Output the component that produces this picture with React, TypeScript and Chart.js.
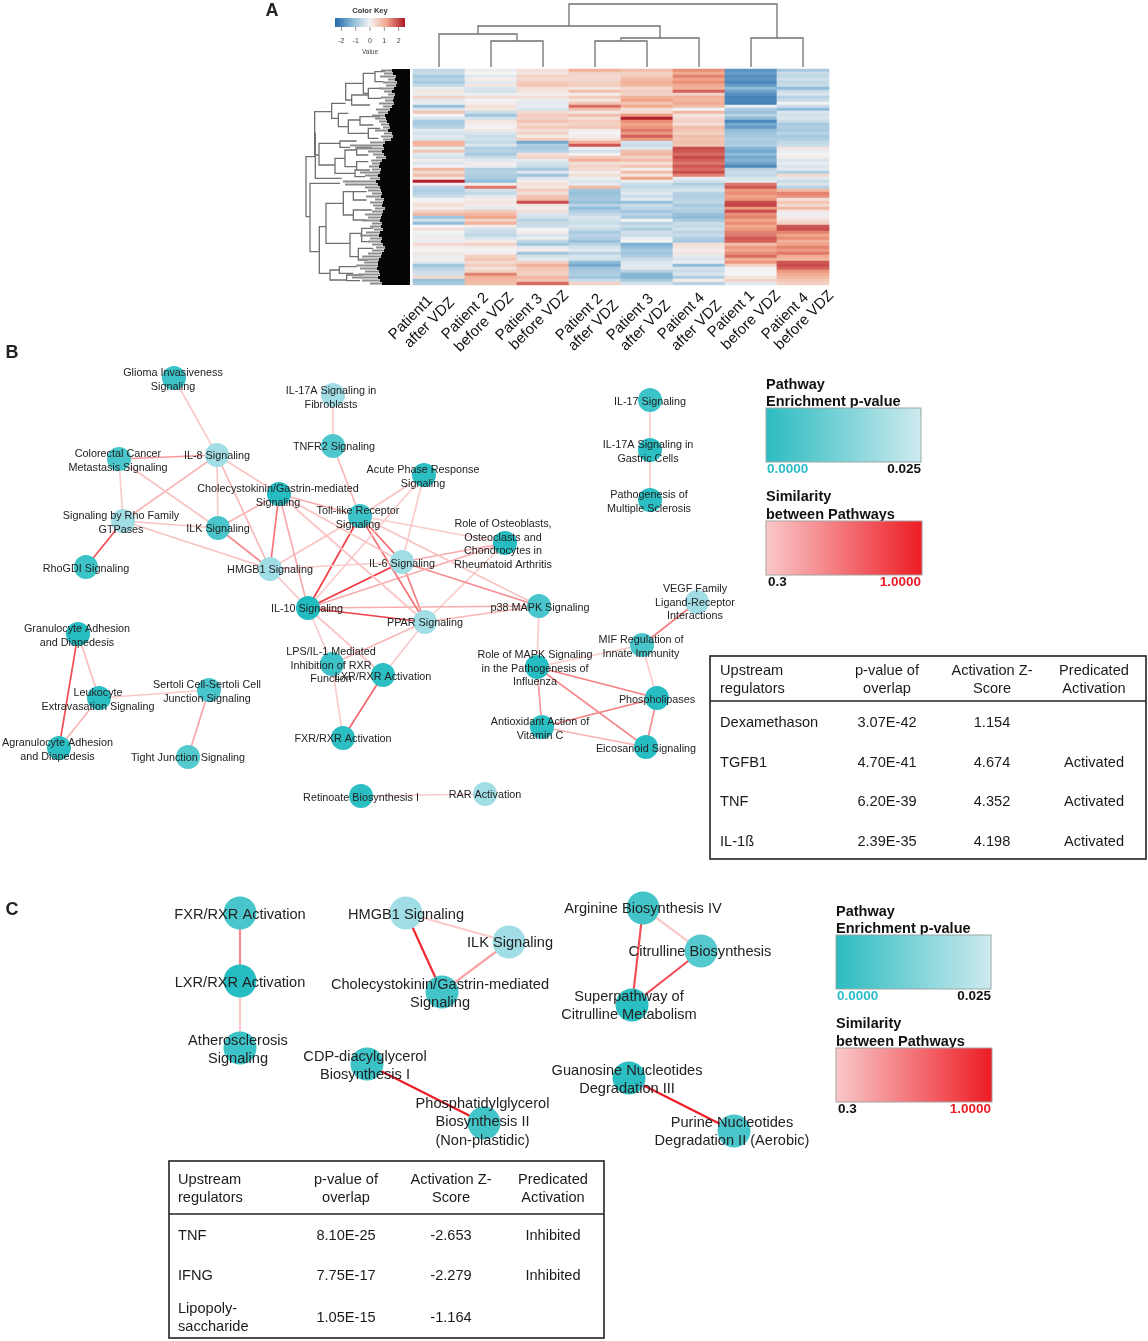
import React, { useEffect, useRef } from "react";
import { Chart, registerables } from "chart.js";
Chart.register(...registerables);

const W = 1148, H = 1341;
const FONT = '"Liberation Sans", Arial, sans-serif';

/* ---------- A: heat map ---------- */
const sampleNames = [["Patient1", "after VDZ"], ["Patient 2", "before VDZ"], ["Patient 3", "before VDZ"], ["Patient 2", "after VDZ"], ["Patient 3", "after VDZ"], ["Patient 4", "after VDZ"], ["Patient 1", "before VDZ"], ["Patient 4", "before VDZ"]];
const p1AfterVdz = [-.6,-.5,-.9,-.7,-.9,-.6,-.1,.2,-.1,.5,-.2,-.1,-1.1,-.3,.7,0,-.3,-.9,-.9,-.7,-.2,-.4,-.2,-.3,1,.9,-.1,.7,-.2,-.4,.1,-.3,0,.9,.4,.8,.2,2.4,.1,-.7,-.8,-.7,-.5,0,.1,.3,.1,.5,.9,-1,-.4,-1.2,0,.3,0,-.1,.1,-.1,.4,.1,0,.2,-.1,.1,-.2,-1,-.7,-.5,-.4,.4,-1.1,-.9];
const p2BeforeVdz = [-.1,0,-.2,.1,-.2,.2,-.3,-.4,-.1,.3,0,.1,.3,.2,-.5,-1,-.4,.2,.1,0,.2,-.3,-.5,-.4,-.6,-.3,-.8,-.7,-.9,-.5,-.2,.1,-.1,-.8,-.7,-.8,-.9,-1.2,.1,1.6,-.4,-.6,-.2,.1,.2,.1,-.2,.6,.9,1.2,.5,1,.1,-.4,-.5,-.6,-.3,.1,.5,.1,0,.1,.5,.7,.4,.6,.3,.5,1.5,1,.9,.8];
const p3BeforeVdz = [.3,.2,.5,.4,.6,.7,.3,.2,.1,.3,-.1,-.2,-.1,-.3,.4,.6,.5,.7,.4,.6,.3,.5,.1,.6,-1.5,-.8,-.9,-.7,.3,.5,-.2,-.4,-.5,-.9,-.3,-1,-.3,.1,.3,.2,.6,.3,.7,.8,2,.2,.1,.3,-.3,-.4,-.7,-.5,-.5,0,.1,-.3,-.1,-.6,-1,-.2,.1,-1,-.4,-.2,.5,1,.7,.6,.5,.9,.7,1.7];
const p2AfterVdz = [1,.5,.4,.4,.5,.6,.2,.8,.1,.6,.2,.7,1.7,.8,.2,.8,.3,.6,.5,.7,.1,0,.1,.3,1,1.9,-.1,-.4,0,.6,1,.3,.5,.4,.1,.3,-.1,-.3,-.2,.9,-1,-1.1,-1,-.9,-1.1,-.7,-1.2,-.8,-.6,-.3,-.4,-.5,-.3,-.5,-.9,-.7,-.8,-1.1,-.7,-.4,-.2,-.7,-.3,-.4,-1.2,-1.5,-1,-.9,-.8,-1,-.5,.5];
const p3AfterVdz = [.8,.5,.6,.9,1,.9,.4,.6,.5,1,1.2,.7,1.1,.3,.4,1.3,2.4,1.4,1.2,1.3,1.6,1.3,1.8,1.3,-.4,-.5,-.3,.8,.9,.5,.8,.3,.7,.1,.8,.2,1.2,-.1,-.5,-.6,-.4,-.2,-.5,-.2,-1.1,-.5,-.6,-1,-.7,-.9,0,-.7,-.5,-.8,-.4,-.5,-.1,0,-1.4,-1.2,-.9,-1,-.8,-.5,-.3,-.2,-.2,-.7,-1.3,-1.3,-.9,-.4];
const p4AfterVdz = [1.4,1.1,1.5,1.2,1.4,1.1,1,1.8,.5,1,.9,1.1,.8,0,.9,.2,.4,.5,.3,.8,.7,.5,.8,.7,.8,.7,2,1.9,1.7,2,1.8,1.6,1.9,1.7,2,1.5,-.1,-.4,-.8,-.5,-.3,-.7,-.8,-.7,-.6,-.9,-.7,-.8,-1.1,-1.2,-.9,-.5,-.6,-.4,-.7,-.5,-.8,-.9,.3,.2,.1,.2,-.2,-.3,-.1,-1.2,-.4,-.5,-.3,-.8,.1,-.7];
const p1BeforeVdz = [-1.8,-1.7,-1.9,-1.8,-2,-1.7,-1.2,-1.6,-1.9,-2.1,-2,-2.1,-.1,-.8,-1.1,-.7,-1.2,-2,-1.5,-1.7,-1.2,-1,-.9,-.8,-.9,-.8,-1.3,-1.5,-1.2,-1.5,-1.3,-1.6,-2,-.7,-.5,-.6,-.3,-.2,1.6,1.9,1.3,1.4,1.2,1.3,2,2.1,1.3,2,1.4,1.5,1.2,1.4,1.1,1.3,1.5,1.6,1.9,1.8,.8,1.3,1.1,1.4,1.7,1,1.3,.5,0,0,0,.2,.5,-.2];
const p4BeforeVdz = [-.9,-.5,-.6,-.4,-.6,-.5,-1.2,-.5,-.3,-.7,-.5,0,-.5,-1.2,-.3,-.4,-.3,-.5,-.9,-.8,-.9,-.7,-.9,-.8,-.6,-.5,.2,-.1,0,.1,-.3,-.1,-.3,-.2,-.8,.4,-.2,-.5,-.3,-.7,.9,1.5,1.4,.3,.7,.4,.9,.2,-.1,.1,.3,.5,1.9,2,1.5,1.2,1.4,1,1.2,1.5,1.3,1.6,1.1,.9,1.9,2,1.8,1.3,1.1,.9,.7,.5];
const heatColumns = [p1AfterVdz, p2BeforeVdz, p3BeforeVdz, p2AfterVdz, p3AfterVdz, p4AfterVdz, p1BeforeVdz, p4BeforeVdz];
const colCenters = [439, 491, 543, 595, 647, 699, 751, 803];
const keyTicks = [-2, -1, 0, 1, 2];

/* dendrograms */
const colBrackets = [[569,777,4,26,38],[478,660,26,34,38],[439,517,34,67,41],[491,543,41,67,67],[621,699,38,41,67],[595,647,41,67,67],[751,803,38,67,67]];
const rowBrackets = [[18,290,470,46,30],[46,220,355,44,125],[44,155,285,95,57],[95,130,175,137,115],[137,70,120,190,155],[190,40,100,225,205],[225,35,65,255,250],[205,85,115,250,245],[155,105,135,205,210],[115,160,200,145,145],[145,180,220,180,205],[180,170,195,240,220],[205,205,235,240,235],[57,250,315,120,105],[120,243,262,170,150],[105,295,340,135,165],[135,270,320,170,170],[170,262,285,215,205],[170,305,330,205,210],[165,330,350,210,195],[30,370,575,120,58],[58,500,640,78,90],[78,430,550,130,150],[130,395,465,160,160],[160,395,420,200,200],[160,450,480,215,200],[150,520,590,185,175],[185,505,545,220,210],[175,565,600,220,205],[90,630,660,118,140],[118,620,640,170,160],[140,645,662,190,180]];
const blackEdge = [392,393,396,395,397,396,394,392,395,394,393,394,392,390,388,385,386,387,389,390,388,392,393,391,385,383,384,382,384,386,382,380,379,381,380,378,380,376,378,380,381,382,381,384,383,382,385,383,382,381,380,382,381,383,380,379,382,381,383,385,384,382,381,379,378,378,377,379,380,378,380,382];
const fringeEdge = [381,384,380,388,383,386,379,384,388,381,385,379,383,376,378,372,375,379,381,383,375,384,381,383,370,350,355,368,373,376,371,372,369,372,360,365,370,343,345,365,368,372,366,375,370,373,375,372,365,368,362,372,370,374,366,360,370,368,372,376,372,368,362,358,364,356,360,365,358,352,362,370];

/* ---------- B / C: pathway networks ---------- */
// id: [label, x, y, p-value, labelX, labelY]
type N = [string, number, number, number, number, number];
const nodesB: Record<string, N> = {
  glioma: ["Glioma Invasiveness\nSignaling", 174, 378, .005, 173, 372],
  il17af: ["IL-17A Signaling in\nFibroblasts", 333, 395, .022, 331, 390],
  il8: ["IL-8 Signaling", 217, 455, .022, 217, 455],
  tnfr2: ["TNFR2 Signaling", 333, 446, .008, 334, 446],
  colo: ["Colorectal Cancer\nMetastasis Signaling", 119, 459, .007, 118, 453],
  chole: ["Cholecystokinin/Gastrin-mediated\nSignaling", 279, 494, .001, 278, 488],
  rho: ["Signaling by Rho Family\nGTPases", 123, 521, .022, 121, 515],
  ilk: ["ILK Signaling", 218, 528, .007, 218, 528],
  rhogdi: ["RhoGDI Signaling", 86, 567, .005, 86, 568],
  hmgb1: ["HMGB1 Signaling", 270, 569, .022, 270, 569],
  il10: ["IL-10 Signaling", 308, 608, 0, 307, 608],
  toll: ["Toll-like Receptor\nSignaling", 360, 516, .005, 358, 510],
  acute: ["Acute Phase Response\nSignaling", 424, 475, .002, 423, 469],
  osteo: ["Role of Osteoblasts,\nOsteoclasts and\nChondrocytes in\nRheumatoid Arthritis", 505, 543, .001, 503, 523],
  il6: ["IL-6 Signaling", 402, 562, .022, 402, 563],
  ppar: ["PPAR Signaling", 425, 622, .022, 425, 622],
  p38: ["p38 MAPK Signaling", 539, 606, .007, 540, 607],
  gran: ["Granulocyte Adhesion\nand Diapedesis", 78, 634, .001, 77, 628],
  leuko: ["Leukocyte\nExtravasation Signaling", 99, 698, .002, 98, 692],
  agran: ["Agranulocyte Adhesion\nand Diapedesis", 59, 748, .002, 57.5, 742],
  sertoli: ["Sertoli Cell-Sertoli Cell\nJunction Signaling", 209, 690, .007, 207, 684],
  tight: ["Tight Junction Signaling", 188, 757, .009, 188, 757],
  lps: ["LPS/IL-1 Mediated\nInhibition of RXR\nFunction", 332, 664, .005, 331, 651],
  lxr: ["LXR/RXR Activation", 383, 675, .002, 383, 676],
  fxr: ["FXR/RXR Activation", 343, 738, .002, 343, 738],
  retin: ["Retinoate Biosynthesis I", 361, 796, .002, 361, 797],
  rar: ["RAR Activation", 485, 794, .022, 485, 794],
  il17: ["IL-17 Signaling", 650, 400, .005, 650, 401],
  il17ag: ["IL-17A Signaling in\nGastric Cells", 650, 450, .002, 648, 444],
  ms: ["Pathogenesis of\nMultiple Sclerosis", 650, 500, .002, 649, 494],
  vegf: ["VEGF Family\nLigand-Receptor\nInteractions", 697, 602, .022, 695, 588],
  mif: ["MIF Regulation of\nInnate Immunity", 642, 645, .007, 641, 639],
  mapkflu: ["Role of MAPK Signaling\nin the Pathogenesis of\nInfluenza", 537, 667, .001, 535, 654],
  phospho: ["Phospholipases", 657, 698, .001, 657, 699],
  antiox: ["Antioxidant Action of\nVitamin C", 542, 727, .002, 540, 721],
  eico: ["Eicosanoid Signaling", 646, 747, .001, 646, 748],
};
const edgesB: [string, string, number][] = [
  ["glioma","il8",.3],["il17af","tnfr2",.3],["colo","il8",.5],["colo","rho",.3],["colo","ilk",.33],["il8","rho",.38],["il8","ilk",.3],["il8","hmgb1",.38],["il8","chole",.33],["rho","ilk",.33],["rho","hmgb1",.33],["rho","rhogdi",.8],["ilk","chole",.38],["ilk","hmgb1",.55],["chole","hmgb1",.65],["chole","il10",.42],["chole","toll",.42],["chole","il6",.33],["chole","ppar",.33],["hmgb1","toll",.33],["hmgb1","il6",.3],["hmgb1","il10",.33],["tnfr2","toll",.38],["acute","toll",.33],["acute","il6",.3],["acute","il10",.3],["toll","il10",.85],["toll","il6",.7],["toll","ppar",.65],["toll","osteo",.3],["toll","p38",.33],["il10","il6",.9],["il10","osteo",.42],["il10","ppar",.85],["il10","p38",.42],["il10","lps",.3],["il10","lxr",.33],["il6","osteo",.42],["il6","ppar",.6],["il6","p38",.55],["ppar","p38",.38],["ppar","osteo",.3],["ppar","lps",.38],["ppar","lxr",.3],["p38","mapkflu",.3],["lps","fxr",.3],["lxr","fxr",.7],["gran","agran",.8],["gran","leuko",.35],["leuko","agran",.38],["leuko","sertoli",.3],["sertoli","tight",.45],["retin","rar",.3],["il17","il17ag",.3],["il17ag","ms",.3],["vegf","mif",.6],["mif","mapkflu",.3],["mif","phospho",.3],["mapkflu","phospho",.6],["mapkflu","antiox",.5],["mapkflu","eico",.55],["antiox","phospho",.6],["antiox","eico",.4],["phospho","eico",.55],
];
const nodesC: Record<string, N> = {
  fxr: ["FXR/RXR Activation", 240, 913, .007, 240, 914],
  lxr: ["LXR/RXR Activation", 240, 981, .001, 240, 982],
  athero: ["Atherosclerosis\nSignaling", 240, 1048, .005, 238, 1040],
  hmgb1: ["HMGB1 Signaling", 406, 913, .022, 406, 914],
  ilk: ["ILK Signaling", 509, 942, .022, 510, 942],
  chole: ["Cholecystokinin/Gastrin-mediated\nSignaling", 442, 992, .006, 440, 984],
  cdp: ["CDP-diacylglycerol\nBiosynthesis I", 367, 1064, .005, 365, 1056],
  pgb: ["Phosphatidylglycerol\nBiosynthesis II\n(Non-plastidic)", 484, 1123, .006, 482.5, 1103],
  arg: ["Arginine Biosynthesis IV", 643, 908, .006, 643, 908],
  cit: ["Citrulline Biosynthesis", 701, 951, .009, 700, 951],
  sup: ["Superpathway of\nCitrulline Metabolism", 632, 1005, .002, 629, 996],
  guan: ["Guanosine Nucleotides\nDegradation III", 629, 1078, .002, 627, 1070],
  pur: ["Purine Nucleotides\nDegradation II (Aerobic)", 734, 1131, .007, 732, 1122],
};
const edgesC: [string, string, number][] = [["fxr","lxr",.55],["lxr","athero",.3],["hmgb1","ilk",.3],["hmgb1","chole",.95],["ilk","chole",.45],["cdp","pgb",1],["arg","cit",.3],["arg","sup",.8],["cit","sup",.8],["guan","pur",1]];

/* ---------- tables ---------- */
const tableHeaders = [["Upstream", "regulators"], ["p-value of", "overlap"], ["Activation Z-", "Score"], ["Predicated", "Activation"]];
const tableBRows = [["Dexamethason", "3.07E-42", "1.154", ""], ["TGFB1", "4.70E-41", "4.674", "Activated"], ["TNF", "6.20E-39", "4.352", "Activated"], ["IL-1ß", "2.39E-35", "4.198", "Activated"]];
const tableCRows = [["TNF", "8.10E-25", "-2.653", "Inhibited"], ["IFNG", "7.75E-17", "-2.279", "Inhibited"], ["Lipopoly-\nsaccharide", "1.05E-15", "-1.164", ""]];

/* ---------- helpers ---------- */
const hex = (h: string) => [1, 3, 5].map((i) => parseInt(h.slice(i, i + 2), 16));
const mix = (a: string, b: string, t: number) => {
  const A = hex(a), B = hex(b);
  return `rgb(${A.map((v, i) => Math.round(v + (B[i] - v) * t)).join(",")})`;
};
const heatStops: [number, string][] = [[-2.5, "#2468a8"], [-1.2, "#8fbcd9"], [0, "#f3f3f3"], [1.2, "#f2a488"], [2.5, "#ae1626"]];
const heatColor = (v: number) => {
  for (let i = 1; i < heatStops.length; i++) {
    if (v <= heatStops[i][0]) {
      const [a, ca] = heatStops[i - 1], [b, cb] = heatStops[i];
      return mix(ca, cb, Math.max(0, (v - a) / (b - a)));
    }
  }
  return heatStops[heatStops.length - 1][1];
};
const nodeColor = (p: number) => mix("#1fbbbf", "#b2e2ea", p / 0.025);
const edgeColor = (s: number) => mix("#fbcaca", "#ee1c25", (s - .3) / .7);
const gap = { x: NaN, y: NaN };

const line = (data: any[], color: string, width: number, order: number) => ({
  type: "line" as const, data, borderColor: color, borderWidth: width, pointRadius: 0, tension: 0, fill: false, order, spanGaps: false,
});

function buildDatasets() {
  const ds: any[] = [];
  // heat cells, as floating bars
  const cells: any[] = [], cellColors: string[] = [];
  heatColumns.forEach((col, c) => col.forEach((v, r) => {
    cells.push({ x: colCenters[c], y: [69 + r * 3, 72 + r * 3] });
    cellColors.push(heatColor(v));
  }));
  ds.push({ type: "bar", data: cells, backgroundColor: cellColors, barThickness: 52, borderWidth: 0, order: 9 });

  // column dendrogram
  const colPts: any[] = [];
  colBrackets.forEach(([xl, xr, yb, yl, yr]) => colPts.push({ x: xl, y: yl }, { x: xl, y: yb }, { x: xr, y: yb }, { x: xr, y: yr }, gap));
  ds.push(line(colPts, "#707070", 1.3, 8));

  // row dendrogram
  const rx = (z: number) => 300 + z / 3, ry = (z: number) => 60 + z / 3;
  const rowPts: any[] = [];
  rowBrackets.forEach(([x, t, b, xt, xb]) => rowPts.push({ x: rx(xt), y: ry(t) }, { x: rx(x), y: ry(t) }, { x: rx(x), y: ry(b) }, { x: rx(xb), y: ry(b) }, gap));
  ds.push(line(rowPts, "#707070", 1.3, 8));

  const fringe: any[] = [], black: any[] = [];
  fringeEdge.forEach((x, i) => fringe.push({ x, y: 70.5 + i * 3 }, { x: 398, y: 70.5 + i * 3 }, gap));
  blackEdge.forEach((x, i) => black.push({ x, y: 70.5 + i * 3 }, { x: 410, y: 70.5 + i * 3 }, gap));
  ds.push(line(fringe, "#8c8c8c", 2.2, 7));
  ds.push(line(black, "#050505", 3.1, 6));

  // networks
  const addNet = (nodes: Record<string, N>, edges: [string, string, number][], radius: number, width: number) => {
    edges.forEach(([a, b, s]) => ds.push(line([{ x: nodes[a][1], y: nodes[a][2] }, { x: nodes[b][1], y: nodes[b][2] }], edgeColor(s), width, 3)));
    const list = Object.values(nodes);
    ds.push({
      type: "scatter", data: list.map((n) => ({ x: n[1], y: n[2] })),
      pointRadius: radius, pointBorderWidth: 0, pointBackgroundColor: list.map((n) => nodeColor(n[3])), order: 1,
    });
  };
  addNet(nodesB, edgesB, 12, 1.7);
  addNet(nodesC, edgesC, 16.5, 2.2);
  return ds;
}

const overlay = {
  id: "overlay",
  afterDatasetsDraw(chart: any) {
    const { ctx, scales } = chart;
    const X = (v: number) => scales.x.getPixelForValue(v), Y = (v: number) => scales.y.getPixelForValue(v);
    const text = (s: string, x: number, y: number, font: string, color = "#222", align: CanvasTextAlign = "center") => {
      ctx.font = `${font} ${FONT}`; ctx.fillStyle = color; ctx.textAlign = align; ctx.textBaseline = "middle";
      ctx.fillText(s, X(x), Y(y + 1));
    };
    ctx.save();

    // panel letters
    text("A", 272, 10, "bold 18px"); text("B", 12, 352, "bold 18px"); text("C", 12, 909, "bold 18px");

    // colour key
    text("Color Key", 370, 10, "bold 7.5px", "#333");
    const gk = ctx.createLinearGradient(X(335), 0, X(405), 0);
    [["#2468a8", 0], ["#8fbcd9", .26], ["#f3f3f3", .5], ["#f2a488", .74], ["#ae1626", 1]].forEach(([c, o]: any) => gk.addColorStop(o, c));
    ctx.fillStyle = gk; ctx.fillRect(X(335), Y(18), X(405) - X(335), Y(27) - Y(18));
    ctx.strokeStyle = "#777"; ctx.lineWidth = .8;
    keyTicks.forEach((t) => {
      const x = 370 + t * 14.3;
      ctx.beginPath(); ctx.moveTo(X(x), Y(27)); ctx.lineTo(X(x), Y(31)); ctx.stroke();
      text(String(t), x, 40, "7px", "#444");
    });
    text("Value", 370, 51, "6.5px", "#444");

    // sample labels
    const ends = [[425, 293, 447, 295], [481, 290, 506, 290], [535, 291, 561, 288], [595, 291, 611, 298], [646, 291, 663, 298], [697, 290, 714, 298], [747, 288, 773, 288], [801, 290, 826, 288]];
    sampleNames.forEach((names, i) => {
      [0, 1].forEach((k) => {
        ctx.save();
        ctx.translate(X(ends[i][k * 2]), Y(ends[i][k * 2 + 1]));
        ctx.rotate(-Math.PI / 4);
        ctx.font = `15px ${FONT}`; ctx.fillStyle = "#111"; ctx.textAlign = "right"; ctx.textBaseline = "top";
        ctx.fillText(names[k], 0, 0);
        ctx.restore();
      });
    });

    // node labels
    const labels = (nodes: Record<string, N>, font: string, lh: number) => Object.values(nodes).forEach((n) => {
      n[0].split("\n").forEach((s, i) => text(s, n[4], n[5] + i * lh, font, "#222"));
    });
    labels(nodesB, "10.8px", 13.6);
    labels(nodesC, "14.6px", 18.3);

    // pathway legends
    const legend = (dx: number, dy: number) => {
      text("Pathway", 766 + dx, 384 + dy, "bold 14.5px", "#111", "left");
      text("Enrichment p-value", 766 + dx, 401 + dy, "bold 14.5px", "#111", "left");
      const g1 = ctx.createLinearGradient(X(766 + dx), 0, X(921 + dx), 0);
      g1.addColorStop(0, "#2bbcc0"); g1.addColorStop(1, "#cdeaef");
      ctx.fillStyle = g1; ctx.fillRect(X(766 + dx), Y(408 + dy), 155, 54);
      ctx.strokeStyle = "#9aa8a8"; ctx.lineWidth = 1; ctx.strokeRect(X(766 + dx), Y(408 + dy), 155, 54);
      text("0.0000", 767 + dx, 468 + dy, "bold 13.5px", "#2bbcc8", "left");
      text("0.025", 921 + dx, 468 + dy, "bold 13.5px", "#111", "right");
      text("Similarity", 766 + dx, 496 + dy, "bold 14.5px", "#111", "left");
      text("between Pathways", 766 + dx, 513.5 + dy, "bold 14.5px", "#111", "left");
      const g2 = ctx.createLinearGradient(X(766 + dx), 0, X(922 + dx), 0);
      g2.addColorStop(0, "#f9c8c9"); g2.addColorStop(1, "#ed1c24");
      ctx.fillStyle = g2; ctx.fillRect(X(766 + dx), Y(521 + dy), 156, 54);
      ctx.strokeStyle = "#a8a0a0"; ctx.strokeRect(X(766 + dx), Y(521 + dy), 156, 54);
      text("0.3", 768 + dx, 581 + dy, "bold 13.5px", "#111", "left");
      text("1.0000", 921 + dx, 581 + dy, "bold 13.5px", "#ee1c25", "right");
    };
    legend(0, 0); legend(70, 527);

    // tables
    const table = (x0: number, x1: number, y0: number, y1: number, yh: number, cols: number[], hy: number[], rows: string[][], ry: number[], ml: number) => {
      ctx.strokeStyle = "#222"; ctx.lineWidth = 1.6;
      ctx.strokeRect(X(x0), Y(y0), X(x1) - X(x0), Y(y1) - Y(y0));
      ctx.beginPath(); ctx.moveTo(X(x0), Y(yh)); ctx.lineTo(X(x1), Y(yh)); ctx.stroke();
      tableHeaders.forEach((h, c) => h.forEach((s, k) => text(s, c === 0 ? ml : cols[c], hy[k], "14.6px", "#1a1a1a", c === 0 ? "left" : "center")));
      rows.forEach((row, r) => row.forEach((s, c) => {
        const parts = s.split("\n");
        parts.forEach((p, k) => {
          const y = parts.length > 1 ? ry[r] - 9 + k * 17.5 : ry[r];
          text(p, c === 0 ? ml : cols[c], y, "14.6px", "#1a1a1a", c === 0 ? "left" : "center");
        });
      }));
    };
    table(710, 1146, 656, 859, 701, [0, 887, 992, 1094], [670, 687.5], tableBRows, [722, 762, 801, 840.5], 720);
    table(169, 604, 1161, 1338, 1214, [0, 346, 451, 553], [1179, 1196.5], tableCRows, [1235, 1274.5, 1317], 178);
    ctx.restore();
  },
};

export default function App() {
  const ref = useRef<HTMLCanvasElement>(null);
  useEffect(() => {
    const chart = new Chart(ref.current as HTMLCanvasElement, {
      type: "scatter",
      data: { datasets: buildDatasets() },
      options: {
        animation: false, responsive: false, devicePixelRatio: 1, events: [],
        layout: { padding: 0, autoPadding: false },
        plugins: { legend: { display: false }, tooltip: { enabled: false } },
        scales: {
          x: { type: "linear", min: 0, max: W, display: false, offset: false },
          y: { type: "linear", min: 0, max: H, reverse: true, display: false, offset: false },
        },
      },
      plugins: [overlay],
    } as any);
    return () => chart.destroy();
  }, []);
  return <canvas ref={ref} width={W} height={H} style={{ position: "absolute", left: 0, top: 0, display: "block" }} />;
}
